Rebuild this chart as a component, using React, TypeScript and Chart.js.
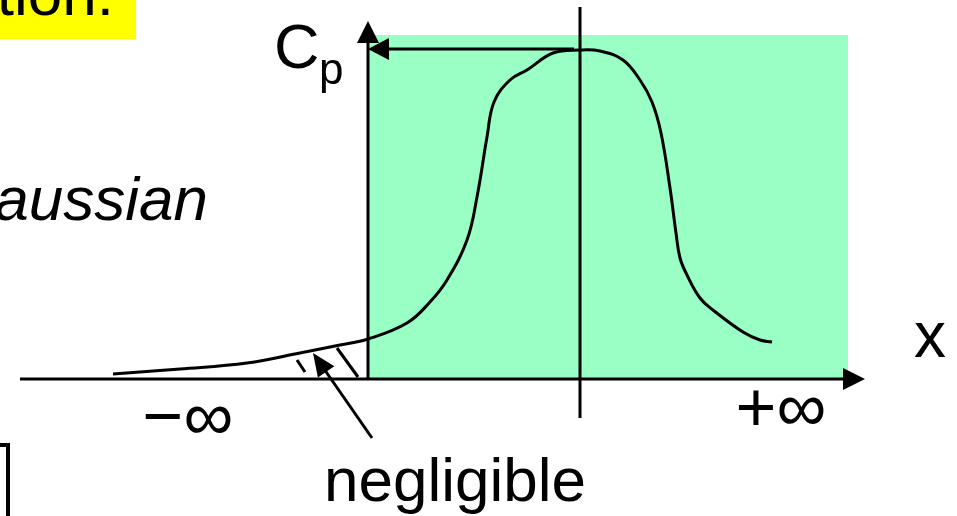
import React, { useEffect, useRef } from "react";
import { Chart, registerables } from "chart.js";

Chart.register(...registerables);

// Concentration profile Cp(x): x positions (axis units) and Cp values
const curveX = [-25.5, -18.8, -12.1, -6.8, -2.8, 0, 3.9, 6.2, 7.9, 9.9, 10.9, 11.9, 12.6, 14.2, 15.9, 18.5, 21.2, 23.2, 25.5, 27.2, 28.4, 29.3, 30.2, 30.8, 31.2, 31.9, 33.2, 34.5, 37.5, 39.2, 40.4];
const curveCp = [0.4, 0.9, 1.5, 2.5, 3.3, 3.9, 5.5, 7.6, 9.8, 13.8, 18.1, 24.1, 27.6, 29.8, 30.8, 32.5, 32.8, 32.7, 31.8, 29.8, 27.6, 24.5, 19.0, 14.5, 12.0, 10.3, 8.0, 6.8, 4.6, 3.8, 3.6];
const xLabels = ["\u2212\u221E", "+\u221E"];
const axisLabels = ["C", "p", "x"];

const FONT = '"Liberation Sans", Arial, sans-serif';

const diagramPlugin = {
  id: "diagram",
  beforeDatasetsDraw(chart: any) {
    const { ctx, scales } = chart;
    const X = (u: number) => scales.x.getPixelForValue(u);
    const Y = (v: number) => scales.y.getPixelForValue(v);
    ctx.save();
    ctx.fillStyle = "#99FFC4";
    ctx.fillRect(X(0), Y(34.3), X(48) - X(0), Y(0) - Y(34.3));
    ctx.fillStyle = "#FFFF00";
    ctx.fillRect(0, 0, 136, 39);
    ctx.restore();
  },
  afterDatasetsDraw(chart: any) {
    const { ctx, scales } = chart;
    const X = (u: number) => scales.x.getPixelForValue(u);
    const Y = (v: number) => scales.y.getPixelForValue(v);
    ctx.save();
    ctx.strokeStyle = "#000";
    ctx.fillStyle = "#000";
    ctx.lineWidth = 3;
    ctx.lineCap = "butt";
    const line = (u1: number, v1: number, u2: number, v2: number) => {
      ctx.beginPath();
      ctx.moveTo(X(u1), Y(v1));
      ctx.lineTo(X(u2), Y(v2));
      ctx.stroke();
    };
    const tri = (pts: number[][]) => {
      ctx.beginPath();
      ctx.moveTo(X(pts[0][0]), Y(pts[0][1]));
      ctx.lineTo(X(pts[1][0]), Y(pts[1][1]));
      ctx.lineTo(X(pts[2][0]), Y(pts[2][1]));
      ctx.closePath();
      ctx.fill();
    };
    line(-34.8, -0.1, 47.6, -0.1);
    tri([[49.7, -0.1], [47.5, 1.0], [47.5, -1.2]]);
    line(0, -0.1, 0, 33.6);
    tri([[0, 35.7], [-1.1, 33.5], [1.1, 33.5]]);
    line(2.0, 32.9, 20.6, 32.9);
    tri([[0, 32.9], [2.1, 34.0], [2.1, 31.8]]);
    line(21.2, -4.0, 21.2, 37.1);
    line(-7.1, 1.8, -6.3, 0.6);
    line(-3.1, 3.0, -1.0, 0.1);
    const tailU = 0.4, tailV = -6.0, tipU = -5.5, tipV = 2.5;
    const dx = X(tipU) - X(tailU), dy = Y(tipV) - Y(tailV);
    const len = Math.hypot(dx, dy);
    const ux = dx / len, uy = dy / len;
    const hl = 23, hw = 10;
    const tx = X(tipU), ty = Y(tipV);
    const bx = tx - ux * hl, by = ty - uy * hl;
    ctx.beginPath();
    ctx.moveTo(X(tailU), Y(tailV));
    ctx.lineTo(bx + ux * 2, by + uy * 2);
    ctx.stroke();
    ctx.beginPath();
    ctx.moveTo(tx, ty);
    ctx.lineTo(bx - uy * hw, by + ux * hw);
    ctx.lineTo(bx + uy * hw, by - ux * hw);
    ctx.closePath();
    ctx.fill();

    ctx.textBaseline = "alphabetic";
    ctx.font = `62px ${FONT}`;
    ctx.textAlign = "right";
    ctx.fillText("tion:", 114, 15);
    ctx.font = `italic 62px ${FONT}`;
    ctx.fillText("Gaussian", 208, 220);
    ctx.textAlign = "left";
    ctx.font = `63px ${FONT}`;
    ctx.fillText(axisLabels[0], 274, 68);
    ctx.font = `44px ${FONT}`;
    ctx.fillText(axisLabels[1], 319, 84);
    ctx.font = `64px ${FONT}`;
    ctx.textAlign = "center";
    ctx.fillText(axisLabels[2], 930, 357);
    ctx.font = `70px ${FONT}`;
    ctx.fillText(xLabels[0], X(-18.0), Y(-6.2));
    ctx.fillText(xLabels[1], X(41.3), Y(-5.3));
    ctx.textAlign = "left";
    ctx.font = `62px ${FONT}`;
    ctx.fillText("negligible", 324, 501);
    ctx.lineWidth = 4;
    ctx.beginPath();
    ctx.moveTo(0, 445);
    ctx.lineTo(8, 445);
    ctx.lineTo(8, 516);
    ctx.stroke();
    ctx.restore();
  },
};

export default function App() {
  const ref = useRef<HTMLCanvasElement>(null);
  useEffect(() => {
    document.body.style.margin = "0";
    if (!ref.current) return;
    const chart = new Chart(ref.current, {
      type: "scatter",
      data: {
        datasets: [
          {
            data: curveX.map((x, i) => ({ x, y: curveCp[i] })),
            showLine: true,
            borderColor: "#000",
            borderWidth: 3,
            pointRadius: 0,
            tension: 0.4,
            fill: false,
          },
        ],
      },
      options: {
        responsive: false,
        animation: false,
        devicePixelRatio: 1,
        layout: { padding: 0 },
        scales: {
          x: { type: "linear", min: -36.8, max: 58.9, display: false },
          y: { type: "linear", min: -13.8, max: 37.8, display: false },
        },
        plugins: { legend: { display: false }, tooltip: { enabled: false } },
      },
      plugins: [diagramPlugin],
    });
    return () => chart.destroy();
  }, []);
  return (
    <div style={{ width: 957, height: 516 }}>
      <canvas ref={ref} width={957} height={516} style={{ display: "block" }} />
    </div>
  );
}
